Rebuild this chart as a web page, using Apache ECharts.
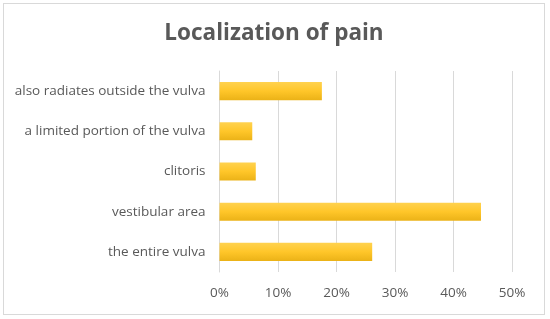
<!DOCTYPE html>
<html>
<head>
<meta charset="utf-8">
<script src="https://cdn.jsdelivr.net/npm/echarts@6/dist/echarts.min.js"></script>
<style>
  html, body { margin: 0; padding: 0; background: #fff; }
  #chart {
    position: absolute; left: 3px; top: 3px;
    width: 542px; height: 312px;
    border: 1px solid #d9d9d9; box-sizing: border-box;
  }
</style>
</head>
<body>
<div id="chart"></div>
<script>
// pain location, bottom to top as drawn
const categories = [
  'the entire vulva',
  'vestibular area',
  'clitoris',
  'a limited portion of the vulva',
  'also radiates outside the vulva'
];
const shares = [26.1, 44.7, 6.2, 5.6, 17.5];
const ticks = [0, 10, 20, 30, 40, 50];

const ele = document.getElementById('chart');
const chart = echarts.init(ele);

chart.setOption({
  animation: false,
  title: {
    text: 'Localization of pain',
    left: 'center',
    top: 13,
    textStyle: {
      fontFamily: 'Open Sans',
      fontSize: 22.5,
      fontWeight: 'bold',
      color: '#595959'
    }
  },
  grid: {
    left: 215.5,
    right: 32,
    top: 67,
    bottom: 42
  },
  xAxis: {
    type: 'value',
    min: ticks[0],
    max: ticks[ticks.length - 1],
    interval: 10,
    axisLine: { show: false },
    axisTick: { show: false },
    splitLine: { lineStyle: { color: '#d9d9d9', width: 1 } },
    axisLabel: {
      formatter: (v) => v + '%',
      margin: 14,
      fontFamily: 'Open Sans',
      fontSize: 13.5,
      color: '#595959'
    }
  },
  yAxis: {
    type: 'category',
    data: categories,
    axisLine: { lineStyle: { color: '#d9d9d9' } },
    axisTick: { show: false },
    axisLabel: {
      margin: 14,
      fontFamily: 'Open Sans',
      fontSize: 13.5,
      color: '#595959'
    }
  },
  series: [{
    type: 'bar',
    data: shares,
    barWidth: '45%',
    itemStyle: {
      color: new echarts.graphic.LinearGradient(0, 0, 0, 1, [
        { offset: 0, color: '#FFD24F' },
        { offset: 0.5, color: '#FFC629' },
        { offset: 1, color: '#EBB217' }
      ])
    }
  }]
});
</script>
</body>
</html>
